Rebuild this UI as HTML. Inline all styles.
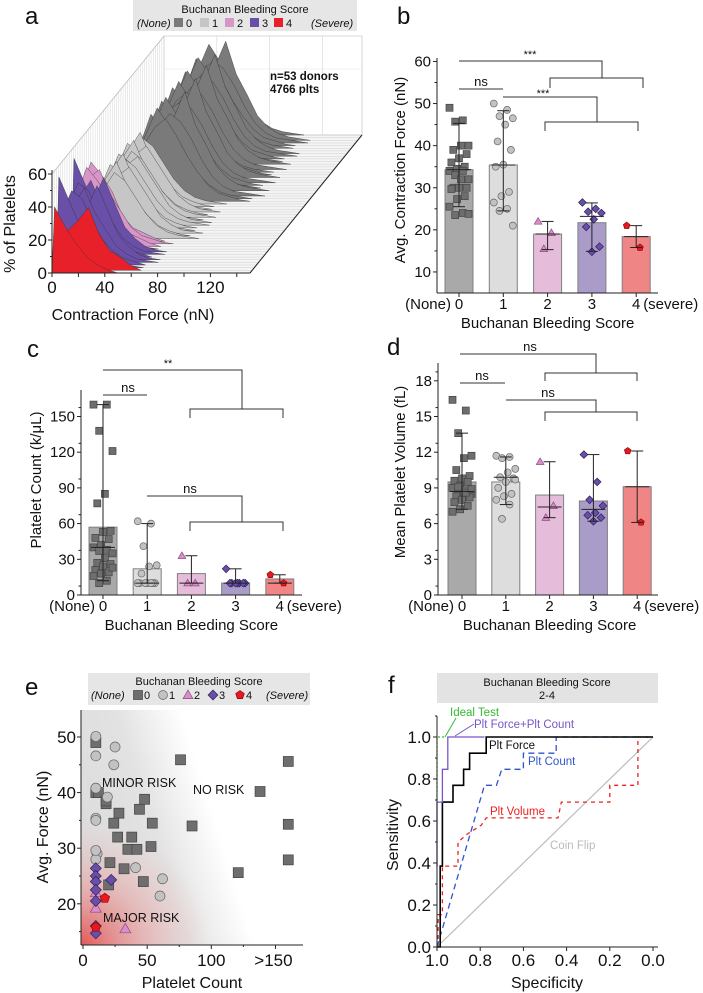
<!DOCTYPE html>
<html><head><meta charset="utf-8"><style>
html,body{margin:0;padding:0;background:#fff;}
svg{display:block;font-family:"Liberation Sans",Arial,sans-serif;}
</style></head><body>
<svg id="fig" width="703" height="993" viewBox="0 0 703 993" xmlns="http://www.w3.org/2000/svg">
<defs>
<linearGradient id="grayGrad" gradientUnits="userSpaceOnUse" x1="81" y1="860" x2="215" y2="818">
<stop offset="0" stop-color="#dcdcdc"/><stop offset="0.55" stop-color="#e2e2e2"/><stop offset="1" stop-color="#ffffff"/>
</linearGradient>
<radialGradient id="redGrad" gradientUnits="userSpaceOnUse" cx="81" cy="945" r="130" gradientTransform="translate(81 945) scale(1 0.95) translate(-81 -945)">
<stop offset="0" stop-color="#e44a4a" stop-opacity="0.9"/><stop offset="0.5" stop-color="#ec8a8a" stop-opacity="0.45"/><stop offset="1" stop-color="#f0b0b0" stop-opacity="0"/>
</radialGradient>
</defs>
</svg>
<script>
// ---------- data ----------
var groupLabels = ['0','1','2','3','4'];
// panel b
var bMeans = [34.3, 35.4, 19.0, 21.7, 18.4];
var bLo = [25.5, 24.5, 15.3, 14.9, 15.8];
var bHi = [45.3, 48.3, 22.0, 26.4, 21.0];
var bMid = [34.3, 35.4, 19.0, 23.2, 18.4];
var bPts0 = [49,46,45.7,40,40,39,38,37,36,35,34.5,34,34,33,32,32,30,30,30,29.7,28,27.3,25.5,24,23.5,23.8];
var bPts1 = [50,48.5,47,46.5,45,41,39,35.5,35,29,28,26.5,25,24.5,21];
var bPts2 = [22,19.3,15.5];
var bPts3 = [26.5,25,24.3,24,22.5,20.7,16,14.8];
var bPts4 = [21,15.8];
// panel c
var cMeans = [57, 22, 18, 10, 13.5];
var cLo = [12, 10, 10, 10, 10];
var cHi = [160, 60, 33, 22, 17];
var cMid = [40, 10, 10, 10, 10];
var cPts0 = [160,160,138,121,85,77,54,53,48,47,42,40,38,37,35,31,27,26,24,21,19,18,16,12,10,23];
var cPts1 = [62,60,41,25,24,18,10,10,10,10,10,10,10];
var cPts2 = [33,10,10];
var cPts3 = [22,10,10,10,10,10,10,10];
var cPts4 = [17,10];
// panel d
var dMeans = [9.5, 9.5, 8.4, 7.9, 9.1];
var dLo = [7.2, 7.6, 6.5, 6.2, 6.1];
var dHi = [13.6, 11.6, 11.2, 11.8, 12.1];
var dMid = [8.7, 9.9, 7.4, 7.2, 9.1];
var dPts0 = [16.4,15.5,13.6,11.7,11.5,10.5,10,9.8,9.6,9.5,9.2,9,8.8,8.7,8.5,8.4,8.3,8.2,8,7.8,7.5,7.2,7,8.6,9.1,8.9];
var dPts1 = [11.7,11.6,11.5,10.6,10.3,9.9,9.8,9.5,9,8.5,8.3,8,7.6,6.4,9.7];
var dPts2 = [11.2,7.5,6.5];
var dPts3 = [11.8,9.5,8,7.5,6.9,6.7,6.5,6.2];
var dPts4 = [12.1,6.1];
// panel e (platelet count, avg force)
var eX0 = [10,10,12,18,18,28,24,27,38,35,42,53,48,44,54,21,32,20,47,76,85,138,121,160,160,160];
var eY0 = [49,40,40,38,38.5,36.3,34.5,32,32,29.8,29.8,30.3,38.8,37,34.5,27.4,26.3,23.4,24,45.9,34,40.2,25.6,45.6,34.3,27.9];
var eX1 = [10,10,25,24,10,19,10,10,11,10,41,62,60,10];
var eY1 = [50.1,46.6,48.2,45,40.8,39.2,35.4,35,29,28,26.5,24.5,21.4,29.6];
var eX2 = [10,33,10];
var eY2 = [19.2,15.5,22];
var eX3 = [10,10,10,10,10,22,10,10];
var eY3 = [26.4,25,24,22.5,20.5,24.3,16,14.7];
var eX4 = [17,10];
var eY4 = [21,15.8];
// panel f ROC (specificity, sensitivity)
var idealSpec = [1.0, 1.0, 0.96];
var idealSens = [0.7, 1.0, 1.0];
var comboSpec = [1.0,1.0,0.975,0.975,0.95,0.95,0.78];
var comboSens = [0.38,0.69,0.69,0.846,0.846,1.0,1.0];
var forceSpec = [1.0,0.985,0.985,0.975,0.975,0.926,0.926,0.877,0.877,0.849,0.849,0.772,0.772,0.0];
var forceSens = [0.0,0.0,0.385,0.385,0.69,0.69,0.77,0.77,0.846,0.846,0.923,0.923,1.0,1.0];
var countSpec = [1.0,0.78,0.725,0.70,0.60,0.60,0.448,0.448,0.0];
var countSens = [0.0,0.77,0.77,0.846,0.846,0.923,0.923,1.0,1.0];
var volSpec = [0.995,0.995,0.975,0.975,0.903,0.903,0.857,0.795,0.772,0.44,0.424,0.2,0.2,0.07,0.07,0.0];
var volSens = [0.0,0.154,0.154,0.385,0.385,0.5,0.54,0.58,0.615,0.615,0.69,0.69,0.77,0.77,1.0,1.0];
// panel a histogram profiles (% of platelets per 8 nN bin)
var profRedA = [40,28,18,10,5,2];
var profRedB = [24,24,30,38,22,12,8,3];
var profPur1 = [55,40,25,15,8,4,2,1];
var profPur2 = [30,45,40,25,15,8,4,2];
var profPur3 = [20,35,45,30,20,10,5,2,1];
var profPur4 = [25,40,30,45,30,15,8,3,1];
var profPink1 = [30,48,40,30,15,8,5,2];
var profPink2 = [20,40,45,30,20,10,5,3,1];
var profLg1 = [5,15,30,40,35,25,15,8,4,2,1];
var profLg2 = [8,20,35,45,30,20,12,6,3,1];
var profLg3 = [3,10,25,35,40,30,20,10,5,2,1];
var profLg4 = [10,25,40,35,25,15,8,4,2,1];
var profDg1 = [2,8,20,35,45,50,40,28,18,10,5,3,1];
var profDg2 = [3,10,25,40,55,45,35,22,14,8,4,2,1];
var profDg3 = [1,5,15,30,42,50,45,35,22,12,6,3,2,1];
var profDg4 = [4,12,30,48,40,32,22,15,9,5,3,1];
var profDg5 = [2,6,18,28,38,45,60,40,28,15,8,4,2,1];
var rowGroup = [4,4,3,3,3,3,3,3,3,3,2,2,2,1,1,1,1,1,1,1,1,1,1,1,1,1,1,0,0,0,0,0,0,0,0,0,0,0,0,0,0,0,0,0,0,0,0,0,0,0,0,0,0];
var rowProfiles = [profRedA,profRedB,profPur1,profPur2,profPur3,profPur4,profPur2,profPur3,profPur4,profPur1,profPink1,profPink2,profPink1,
 profLg1,profLg2,profLg3,profLg4,profLg2,profLg1,profLg3,profLg4,profLg1,profLg2,profLg3,profLg4,profLg2,profLg1,
 profDg1,profDg2,profDg3,profDg4,profDg5,profDg2,profDg1,profDg3,profDg4,profDg5,profDg1,profDg2,profDg3,profDg4,profDg5,profDg2,profDg1,profDg3,profDg5,profDg4,profDg2,profDg1,profDg3,profDg5,profDg4,profDg2];

// ---------- helpers ----------
var svg = document.getElementById('fig');
var NS = 'http://www.w3.org/2000/svg';
function el(tag, attrs, name, parent) {
  var e = document.createElementNS(NS, tag);
  for (var k in attrs) e.setAttribute(k, attrs[k]);
  
  
  (parent || svg).appendChild(e);
  return e;
}
function txt(x, y, s, size, name, opts) {
  opts = opts || {};
  var a = {x: x, y: y, 'font-size': size, fill: opts.fill || '#111'};
  if (opts.anchor) a['text-anchor'] = opts.anchor;
  if (opts.italic) a['font-style'] = 'italic';
  if (opts.bold) a['font-weight'] = 'bold';
  if (opts.rot) a.transform = 'rotate(-90 ' + x + ' ' + y + ')';
  var t = el('text', a, name);
  t.textContent = s;
  return t;
}
function line(x1, y1, x2, y2, stroke, w, name, dash) {
  var a = {x1: x1, y1: y1, x2: x2, y2: y2, stroke: stroke, 'stroke-width': w};
  if (dash) a['stroke-dasharray'] = dash;
  return el('line', a, name);
}
var markFill = ['#6e6e6e', '#c2c2c2', '#d98ec9', '#6a4fa8', '#e8181f'];
var markStroke = ['#444', '#666', '#8a4c7e', '#2e1f5e', '#8a0a0a'];
var barFill = ['#a9a9a9', '#dddddd', '#e5bddb', '#a99cc9', '#f08585'];
function marker(g, x, y, s, name) {
  var f = markFill[g], st = markStroke[g], h = s / 2;
  if (g === 0) return el('rect', {x: x - h, y: y - h, width: s, height: s, fill: f, stroke: st, 'stroke-width': 0.7}, name);
  if (g === 1) return el('circle', {cx: x, cy: y, r: h, fill: f, stroke: st, 'stroke-width': 0.7}, name);
  var pts;
  if (g === 2) pts = [[x, y - h * 1.1], [x + h * 1.1, y + h * 0.8], [x - h * 1.1, y + h * 0.8]];
  else if (g === 3) pts = [[x, y - h * 1.1], [x + h * 1.1, y], [x, y + h * 1.1], [x - h * 1.1, y]];
  else { pts = []; for (var i = 0; i < 5; i++) { var an = -Math.PI / 2 + i * 2 * Math.PI / 5; pts.push([x + h * Math.cos(an), y + h * Math.sin(an)]); } }
  return el('polygon', {points: pts.map(function (p) { return p[0].toFixed(1) + ',' + p[1].toFixed(1); }).join(' '), fill: f, stroke: st, 'stroke-width': 0.7}, name);
}
function jitter(k) { return (((k * 7) % 11) - 5) * 1.9; }

// ---------- bar panels ----------
function barPanel(p) {
  var ax = p.axLeft, ab = p.axBottom;
  for (var i = 0; i < 5; i++) {
    var cx = p.xs(i), top = p.ys(p.means[i]);
    el('rect', {x: cx - 14, y: top, width: 28, height: ab - top, fill: barFill[i], stroke: '#808080', 'stroke-width': 1}, p.id + '-bar-' + i);
  }
  for (var g = 0; g < 5; g++) {
    var pts = p.pts[g];
    for (var k = 0; k < pts.length; k++) {
      marker(g, p.xs(g) + jitter(k), p.ys(pts[k]), 7, p.id + '-point-g' + g);
    }
  }
  for (var i = 0; i < 5; i++) {
    var cx = p.xs(i);
    line(cx, p.ys(p.lo[i]), cx, p.ys(p.hi[i]), '#222', 1, p.id + '-error-bar');
    line(cx - 6, p.ys(p.lo[i]), cx + 6, p.ys(p.lo[i]), '#222', 1, p.id + '-error-cap');
    line(cx - 6, p.ys(p.hi[i]), cx + 6, p.ys(p.hi[i]), '#222', 1, p.id + '-error-cap');
    line(cx - 12, p.ys(p.mid[i]), cx + 12, p.ys(p.mid[i]), '#222', 1, p.id + '-center-line');
  }
  line(ax, p.axTop, ax, ab, '#222', 1, p.id + '-y-axis');
  line(ax, ab, p.axRight, ab, '#222', 1, p.id + '-x-axis');
  for (var j = 0; j < p.ticks.length; j++) {
    var y = p.ys(p.ticks[j]);
    line(ax - 4, y, ax, y, '#222', 1, p.id + '-y-tick');
    txt(ax - 6, y + 5, String(p.ticks[j]), 15, p.id + '-y-tick-label', {anchor: 'end'});
    if (j < p.ticks.length - 1 || p.minorTop) {
      var ym = p.ys(p.ticks[j] + p.step / 2);
      if (ym > p.axTop) line(ax - 2.5, ym, ax, ym, '#222', 1, p.id + '-y-minor-tick');
    }
  }
  var ly = ab + 16;
  txt(p.xs(0) - 8, ly, '(None)', 15, p.id + '-x-label-none', {anchor: 'end'});
  for (var i = 0; i < 5; i++) {
    line(p.xs(i), ab, p.xs(i), ab + 4, '#222', 1, p.id + '-x-tick');
    txt(p.xs(i), ly, groupLabels[i], 15, p.id + '-x-tick-label', {anchor: 'middle'});
  }
  txt(p.xs(4) + 7, ly, '(severe)', 15, p.id + '-x-label-severe');
  txt((p.xs(0) + p.xs(4)) / 2, ab + 35, 'Buchanan Bleeding Score', 15, p.id + '-x-axis-title', {anchor: 'middle'});
  txt(p.ytX, p.ytY, p.ytitle, 15, p.id + '-y-axis-title', {anchor: 'middle', rot: true});
}
function bracket(x1, x2, y, drop, name) {
  el('polyline', {points: x1 + ',' + (y + drop) + ' ' + x1 + ',' + y + ' ' + x2 + ',' + y + ' ' + x2 + ',' + (y + drop), fill: 'none', stroke: '#333', 'stroke-width': 1}, name);
}
function topLine(x1, x2, y, ydown, name) {
  el('polyline', {points: x1 + ',' + y + ' ' + x2 + ',' + y + ' ' + x2 + ',' + ydown, fill: 'none', stroke: '#333', 'stroke-width': 1}, name);
}

// panel b
function xB(i) { return 459 + i * 44.3; }
function yB(v) { return 293 - (v - 5) * 4.21; }
barPanel({id: 'panel-b', xs: xB, ys: yB, means: bMeans, lo: bLo, hi: bHi, mid: bMid, pts: [bPts0, bPts1, bPts2, bPts3, bPts4],
  axLeft: 437, axBottom: 293, axTop: 58, axRight: 658, ticks: [10, 20, 30, 40, 50, 60], step: 10,
  ytitle: 'Avg. Contraction Force (nN)', ytX: 405, ytY: 170});
topLine(459, 602, 61, 78, 'panel-b-sig-line-all');
bracket(550, 643, 78, 10, 'panel-b-sig-bracket-all');
txt(530, 58, '***', 11, 'panel-b-sig-label-all', {anchor: 'middle'});
line(459, 89, 503, 89, '#333', 1, 'panel-b-ns-line');
txt(481, 86, 'ns', 13, 'panel-b-ns-label', {anchor: 'middle'});
topLine(503, 597, 97, 122, 'panel-b-sig-line-1');
bracket(545, 638, 122, 9, 'panel-b-sig-bracket-1');
txt(543, 97, '***', 11, 'panel-b-sig-label-1', {anchor: 'middle'});
txt(397, 24, 'b', 24, 'panel-b-letter');

// panel c
function xC(i) { return 103 + i * 44.2; }
function yC(v) { return 595 - v * 1.19; }
barPanel({id: 'panel-c', xs: xC, ys: yC, means: cMeans, lo: cLo, hi: cHi, mid: cMid, pts: [cPts0, cPts1, cPts2, cPts3, cPts4],
  axLeft: 81, axBottom: 595, axTop: 390, axRight: 302, ticks: [0, 30, 60, 90, 120, 150], step: 15, minorTop: true,
  ytitle: 'Platelet Count (k/\u03bcL)', ytX: 41, ytY: 480});
topLine(103, 242, 370, 409, 'panel-c-sig-line-all');
bracket(190, 283, 409, 9, 'panel-c-sig-bracket-all');
txt(168, 367, '**', 11, 'panel-c-sig-label-all', {anchor: 'middle'});
line(103, 395, 147, 395, '#333', 1, 'panel-c-ns-line');
txt(128, 392, 'ns', 13, 'panel-c-ns-label', {anchor: 'middle'});
topLine(147, 242, 496, 522, 'panel-c-ns-line-2');
bracket(190, 283, 522, 9, 'panel-c-ns-bracket-2');
txt(190, 493, 'ns', 13, 'panel-c-ns-label-2', {anchor: 'middle'});
txt(27, 357, 'c', 24, 'panel-c-letter');

// panel d
function xD(i) { return 462 + i * 43.8; }
function yD(v) { return 595 - v * 11.9; }
barPanel({id: 'panel-d', xs: xD, ys: yD, means: dMeans, lo: dLo, hi: dHi, mid: dMid, pts: [dPts0, dPts1, dPts2, dPts3, dPts4],
  axLeft: 438, axBottom: 595, axTop: 363, axRight: 658, ticks: [0, 3, 6, 9, 12, 15, 18], step: 1.5, minorTop: true,
  ytitle: 'Mean Platelet Volume (fL)', ytX: 405, ytY: 472});
topLine(460, 596, 354, 373, 'panel-d-ns-line-all');
bracket(545, 637, 373, 8, 'panel-d-ns-bracket-all');
txt(530, 351, 'ns', 13, 'panel-d-ns-label-all', {anchor: 'middle'});
line(460, 383, 505, 383, '#333', 1, 'panel-d-ns-line');
txt(482, 380, 'ns', 13, 'panel-d-ns-label', {anchor: 'middle'});
topLine(506, 596, 400, 412, 'panel-d-ns-line-2');
bracket(545, 637, 412, 9, 'panel-d-ns-bracket-2');
txt(548, 397, 'ns', 13, 'panel-d-ns-label-2', {anchor: 'middle'});
txt(387, 355, 'd', 24, 'panel-d-letter');

// ---------- panel a (3D waterfall) ----------
var DX = 112, DY = -138, NR = 52;
function xA(f, i) { return 52 + f * 1.32 + DX * i / NR; }
function yA(p, i) { return 273 - p * 1.65 + DY * i / NR; }
var ridgeFill = ['#7a7a7a', '#c6c6c6', '#d896c8', '#6a4fa8', '#e8202a'];
// back wall
el('polygon', {points: xA(0, NR) + ',' + yA(0, NR) + ' ' + xA(0, NR) + ',' + yA(60, NR) + ' ' + xA(150, NR) + ',' + yA(60, NR) + ' ' + xA(150, NR) + ',' + yA(0, NR), fill: '#fff', stroke: '#ccc', 'stroke-width': 0.8}, 'panel-a-back-wall');
[40, 80, 120].forEach(function (f) { line(xA(f, NR), yA(0, NR), xA(f, NR), yA(60, NR), '#ddd', 0.8, 'panel-a-back-grid'); });
line(xA(0, NR), yA(40, NR), xA(150, NR), yA(40, NR), '#eee', 0.8, 'panel-a-back-grid');
// left wall lines & floor
el('polygon', {points: xA(0, 0) + ',' + yA(0, 0) + ' ' + xA(150, 0) + ',' + yA(0, 0) + ' ' + xA(150, NR) + ',' + yA(0, NR) + ' ' + xA(0, NR) + ',' + yA(0, NR), fill: '#f4f4f4', stroke: '#bbb', 'stroke-width': 0.8}, 'panel-a-floor');
for (var i = 0; i <= NR; i++) {
  line(xA(0, i), yA(0, i), xA(0, i), yA(60, i), '#d6d6d6', 0.5, 'panel-a-side-grid');
  line(xA(0, i), yA(0, i), xA(150, i), yA(0, i), '#d0d0d0', 0.5, 'panel-a-floor-grid');
}
line(xA(0, 0), yA(60, 0), xA(0, NR), yA(60, NR), '#bbb', 0.8, 'panel-a-side-top');
for (var i = NR; i >= 0; i--) {
  var pr = rowProfiles[i];
  var pts = [xA(0, i).toFixed(1) + ',' + yA(0, i).toFixed(1)];
  for (var b = 0; b < pr.length; b++) pts.push(xA(b * 8 + 2, i).toFixed(1) + ',' + yA(pr[b], i).toFixed(1));
  pts.push(xA((pr.length) * 8 + 2, i).toFixed(1) + ',' + yA(0, i).toFixed(1));
  el('polygon', {points: pts.join(' '), fill: ridgeFill[rowGroup[i]], stroke: '#333', 'stroke-width': 0.4, 'stroke-linejoin': 'round'}, 'panel-a-ridge-row');
}
line(52, 273, 52, 170, '#222', 1, 'panel-a-y-axis');
line(52, 273, 250, 273, '#222', 1, 'panel-a-x-axis');
line(250, 273, xA(150, NR), yA(0, NR), '#222', 1, 'panel-a-depth-axis');
[0, 20, 40, 60].forEach(function (v) {
  line(48, yA(v, 0), 52, yA(v, 0), '#222', 1, 'panel-a-y-tick');
  txt(47, yA(v, 0) + 6, String(v), 17, 'panel-a-y-tick-label', {anchor: 'end'});
});
[10, 30, 50].forEach(function (v) { line(50, yA(v, 0), 52, yA(v, 0), '#222', 1, 'panel-a-y-minor-tick'); });
[0, 20, 40, 60, 80, 100, 120, 140].forEach(function (f) {
  line(xA(f, 0), 273, xA(f, 0), 277, '#222', 1, 'panel-a-x-tick');
  if (f % 40 === 0) txt(xA(f, 0), 293, String(f), 17, 'panel-a-x-tick-label', {anchor: 'middle'});
});
txt(133, 320, 'Contraction Force (nN)', 16, 'panel-a-x-axis-title', {anchor: 'middle'});
txt(15, 224, '% of Platelets', 16, 'panel-a-y-axis-title', {anchor: 'middle', rot: true});
txt(270, 80, 'n=53 donors', 11.5, 'panel-a-annotation-donors', {bold: true});
txt(270, 93, '4766 plts', 11.5, 'panel-a-annotation-plts', {bold: true});
txt(25, 24, 'a', 24, 'panel-a-letter');
el('rect', {x: 133, y: 0, width: 224, height: 31, fill: '#e6e6e6'}, 'panel-a-legend-box');
txt(245, 13, 'Buchanan Bleeding Score', 11, 'panel-a-legend-title', {anchor: 'middle'});
txt(137, 27, '(None)', 11, 'panel-a-legend-none', {italic: true});
var legAx = [174, 200, 225, 250, 274];
for (var g = 0; g < 5; g++) {
  el('rect', {x: legAx[g], y: 18, width: 9, height: 9, fill: ridgeFill[g]}, 'panel-a-legend-swatch-' + g);
  txt(legAx[g] + 12, 27, groupLabels[g], 11, 'panel-a-legend-label-' + g);
}
txt(311, 27, '(Severe)', 11, 'panel-a-legend-severe', {italic: true});

// ---------- panel e ----------
function xE(v) { return 83 + v * 1.283; }
function yE(v) { return 737 - (v - 50) * 5.56; }
el('rect', {x: 81, y: 710, width: 222, height: 235, fill: 'url(#grayGrad)'}, 'panel-e-risk-gradient');
el('rect', {x: 81, y: 780, width: 160, height: 165, fill: 'url(#redGrad)'}, 'panel-e-major-risk-gradient');
txt(102, 787, 'MINOR RISK', 12.5, 'panel-e-label-minor-risk');
txt(193, 794, 'NO RISK', 12.5, 'panel-e-label-no-risk');
txt(103, 922, 'MAJOR RISK', 12.5, 'panel-e-label-major-risk');
var eXs = [eX0, eX1, eX2, eX3, eX4], eYs = [eY0, eY1, eY2, eY3, eY4];
for (var g = 0; g < 5; g++) for (var k = 0; k < eXs[g].length; k++) marker(g, xE(eXs[g][k]), yE(eYs[g][k]), 10, 'panel-e-point-g' + g);
line(81, 710, 81, 945, '#222', 1, 'panel-e-y-axis');
line(81, 945, 303, 945, '#222', 1, 'panel-e-x-axis');
[20, 30, 40, 50].forEach(function (v) {
  line(77, yE(v), 81, yE(v), '#222', 1, 'panel-e-y-tick');
  txt(76, yE(v) + 6, String(v), 17, 'panel-e-y-tick-label', {anchor: 'end'});
  line(79, yE(v - 5), 81, yE(v - 5), '#222', 1, 'panel-e-y-minor-tick');
});
var eTickV = [0, 50, 100, 150], eTickL = ['0', '50', '100', '>150'];
for (var j = 0; j < 4; j++) {
  line(xE(eTickV[j]), 945, xE(eTickV[j]), 949, '#222', 1, 'panel-e-x-tick');
  txt(xE(eTickV[j]) - (j === 3 ? 2 : 0), 966, eTickL[j], 17, 'panel-e-x-tick-label', {anchor: 'middle'});
}
[25, 75, 125].forEach(function (v) { line(xE(v), 945, xE(v), 947, '#222', 1, 'panel-e-x-minor-tick'); });
txt(192, 988, 'Platelet Count', 16, 'panel-e-x-axis-title', {anchor: 'middle'});
txt(48, 827, 'Avg. Force (nN)', 16, 'panel-e-y-axis-title', {anchor: 'middle', rot: true});
txt(25, 695, 'e', 24, 'panel-e-letter');
el('rect', {x: 88, y: 673, width: 222, height: 32, fill: '#e6e6e6'}, 'panel-e-legend-box');
txt(199, 685, 'Buchanan Bleeding Score', 11, 'panel-e-legend-title', {anchor: 'middle'});
txt(91, 699, '(None)', 11, 'panel-e-legend-none', {italic: true});
var legEx = [138, 163, 188, 213, 240];
for (var g = 0; g < 5; g++) {
  marker(g, legEx[g], 695, 9, 'panel-e-legend-marker-' + g);
  txt(legEx[g] + 6, 699, groupLabels[g], 11, 'panel-e-legend-label-' + g);
}
txt(266, 699, '(Severe)', 11, 'panel-e-legend-severe', {italic: true});

// ---------- panel f ----------
function xF(s) { return 437 + (1 - s) * 216; }
function yF(v) { return 947 - v * 210; }
function rocLine(sp, se, color, w, dash, name) {
  var pts = [];
  for (var k = 0; k < sp.length; k++) pts.push(xF(sp[k]).toFixed(1) + ',' + yF(se[k]).toFixed(1));
  var a = {points: pts.join(' '), fill: 'none', stroke: color, 'stroke-width': w};
  if (dash) a['stroke-dasharray'] = dash;
  return el('polyline', a, name);
}
line(xF(1), yF(0), xF(0), yF(1), '#bbb', 1.2, 'panel-f-coin-flip-line');
rocLine(volSpec, volSens, '#ee2020', 1.3, '4,4', 'panel-f-plt-volume-curve');
rocLine(countSpec, countSens, '#2f55c8', 1.3, '6,4', 'panel-f-plt-count-curve');
rocLine(forceSpec, forceSens, '#000', 1.6, null, 'panel-f-plt-force-curve');
rocLine(comboSpec, comboSens, '#7a55c8', 1.3, null, 'panel-f-plt-force-count-curve');
rocLine(idealSpec, idealSens, '#33bb33', 1.2, '2,2', 'panel-f-ideal-test-curve');
line(437, 716, 437, 947, '#222', 1, 'panel-f-y-axis');
line(437, 947, 658, 947, '#222', 1, 'panel-f-x-axis');
for (var v = 0; v <= 5; v++) {
  var val = v * 0.2;
  line(433, yF(val), 437, yF(val), '#222', 1, 'panel-f-y-tick');
  txt(431, yF(val) + 6, val.toFixed(1), 17, 'panel-f-y-tick-label', {anchor: 'end'});
  line(435, yF(val + 0.1), 437, yF(val + 0.1), '#222', 1, 'panel-f-y-minor-tick');
  line(xF(1 - val), 947, xF(1 - val), 951, '#222', 1, 'panel-f-x-tick');
  txt(xF(1 - val), 966, (1 - val).toFixed(1), 17, 'panel-f-x-tick-label', {anchor: 'middle'});
}
txt(547, 988, 'Specificity', 16, 'panel-f-x-axis-title', {anchor: 'middle'});
txt(398, 835, 'Sensitivity', 16, 'panel-f-y-axis-title', {anchor: 'middle', rot: true});
txt(450, 716, 'Ideal Test', 11.5, 'panel-f-label-ideal-test', {fill: '#33bb33'});
line(456, 718, 445, 737, '#33bb33', 1, 'panel-f-leader-ideal');
txt(474, 728, 'Plt Force+Plt Count', 11.5, 'panel-f-label-combo', {fill: '#7a55c8'});
line(474, 724, 455, 736, '#7a55c8', 1, 'panel-f-leader-combo');
txt(489, 749, 'Plt Force', 11.5, 'panel-f-label-force', {fill: '#111'});
txt(528, 765, 'Plt Count', 11.5, 'panel-f-label-count', {fill: '#2f55c8'});
txt(490, 815, 'Plt Volume', 11.5, 'panel-f-label-volume', {fill: '#ee2020'});
txt(550, 849, 'Coin Flip', 11.5, 'panel-f-label-coin-flip', {fill: '#bbb'});
txt(388, 693, 'f', 24, 'panel-f-letter');
el('rect', {x: 437, y: 673, width: 221, height: 30, fill: '#e3e3e3'}, 'panel-f-title-box');
txt(547, 686, 'Buchanan Bleeding Score', 11, 'panel-f-title', {anchor: 'middle'});
txt(547, 699, '2-4', 11, 'panel-f-subtitle', {anchor: 'middle'});
</script>
</body></html>
